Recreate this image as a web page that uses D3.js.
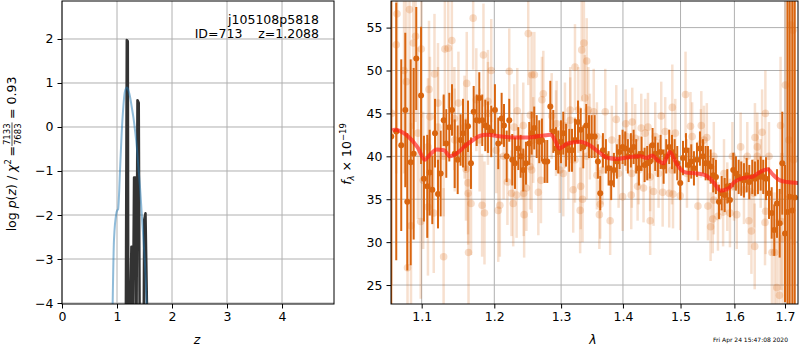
<!DOCTYPE html>
<html>
<head>
<meta charset="utf-8">
<script src="https://cdn.jsdelivr.net/npm/d3@7"></script>
<style>
  body { margin: 0; background: #fff; }
  svg { display: block; font-family: "DejaVu Sans", sans-serif; }
  .grid line { stroke: #b0b0b0; stroke-width: 1; }
</style>
</head>
<body>
<svg id="chart" width="800" height="350"></svg>
<script>
// ---- left panel: log p(z) ----
const chiZ   = [1.15, 1.16, 1.178, 1.196, 1.206, 1.235, 1.262, 1.279, 1.29, 1.31, 1.335, 1.345, 1.355, 1.372, 1.395, 1.412, 1.485, 1.495, 1.518, 1.55, 1.56];
const chiLog = [-4.5, -4.5, 1.98, 1.95, -4.5, -4.5, -2.72, -2.72, -4.5, -1.15, -1.15, -4.5, -4.5, 0.61, 0.55, -4.5, -4.5, -2.11, -1.96, -4.5, -4.5];

const pzZ   = [0.92, 0.945, 0.99, 1.006, 1.02, 1.055, 1.085, 1.115, 1.14, 1.164, 1.185, 1.206, 1.235, 1.267, 1.3, 1.327, 1.36, 1.388, 1.42, 1.449, 1.475, 1.497, 1.52, 1.54];
const pzLog = [-4.1, -2.57, -1.95, -1.89, -1.87, -0.98, -0.14, 0.46, 0.78, 0.88, 0.9, 0.84, 0.7, 0.46, 0.2, -0.07, -0.45, -0.9, -1.4, -1.96, -2.45, -2.87, -3.4, -4.1];

const zTicks = [0, 1, 2, 3, 4];
const pTicks = [-4, -3, -2, -1, 0, 1, 2];

// ---- right panel: spectrum ----
const binWave = [1.0606, 1.0670, 1.0734, 1.0786, 1.0812, 1.0856, 1.0895, 1.0929, 1.0992, 1.1030, 1.1074, 1.1106, 1.1141, 1.1177, 1.1217, 1.1253, 1.1294, 1.1329, 1.1370, 1.1407, 1.1444, 1.1485, 1.1525, 1.1558, 1.1595, 1.1628, 1.1669, 1.1707, 1.1749, 1.1786, 1.1828, 1.1871, 1.1909, 1.1956,
  1.2009, 1.2057, 1.2106, 1.2140, 1.2179, 1.2217, 1.2261, 1.2301, 1.2350, 1.2385, 1.2424, 1.2464, 1.2513, 1.2549, 1.2588, 1.2625, 1.2664, 1.2705, 1.2747, 1.2786, 1.2833, 1.2879, 1.2921, 1.2956, 1.2998, 1.3034, 1.3077, 1.3128, 1.3171, 1.3218, 1.3266, 1.3309, 1.3350, 1.3398, 1.3442, 1.3485,
  1.3533, 1.3586, 1.3624, 1.3668, 1.3717, 1.3761, 1.3804, 1.3849, 1.3899, 1.3944, 1.3994, 1.4038, 1.4083, 1.4134, 1.4180, 1.4224, 1.4270, 1.4316, 1.4368, 1.4413, 1.4459, 1.4506, 1.4552, 1.4599, 1.4646, 1.4699, 1.4745, 1.4798, 1.4847, 1.4895, 1.4941, 1.4995, 1.5044, 1.5098, 1.5147, 1.5194, 1.5243, 1.5298,
  1.5353, 1.5409, 1.5458, 1.5501, 1.5551, 1.5600, 1.5650, 1.5707, 1.5758, 1.5815, 1.5864, 1.5915, 1.5978, 1.6030, 1.6082, 1.6132, 1.6184, 1.6237, 1.6288, 1.6346, 1.6399, 1.6458, 1.6512, 1.6563, 1.6617, 1.6677, 1.6731, 1.6783, 1.6838, 1.6892, 1.6945, 1.7000, 1.7050, 1.7095, 1.7150, 1.7200];
const binFlux = [42.3, 42.9, 41.3, 45.4, 34.7, 39.3, 40.3, 51.4, 47.1, 37.4, 36.5, 38.1, 36.1, 42.7, 35.6, 38.0, 44.2, 41.5, 43.4, 45.4, 40.3, 39.6, 41.9, 42.7, 41.3, 43.5, 39.2, 45.2, 44.2, 46.8, 44.2, 43.6, 43.4, 42.9,
  45.4, 41.5, 44.4, 43.6, 40.0, 44.2, 39.6, 39.2, 40.9, 40.0, 38.4, 39.2, 41.5, 42.7, 43.3, 42.3, 41.7, 41.9, 39.4, 39.4, 45.8, 42.9, 40.9, 40.5, 41.7, 42.7, 41.3, 40.7, 40.7, 41.9, 44.0, 43.1, 41.1, 43.6, 42.3, 42.3,
  42.3, 39.4, 35.7, 40.7, 40.0, 38.6, 36.9, 38.4, 39.4, 40.5, 41.1, 40.9, 40.0, 40.7, 41.1, 40.0, 38.6, 40.3, 39.0, 39.2, 39.4, 41.3, 40.3, 39.6, 40.5, 38.8, 40.0, 41.1, 40.5, 40.0, 39.2, 36.9, 39.8, 40.7, 39.0, 39.4, 38.6, 39.6,
  40.9, 40.0, 39.2, 39.2, 38.8, 37.8, 37.6, 34.7, 35.7, 35.5, 36.5, 34.9, 38.4, 38.0, 37.6, 37.4, 37.2, 37.8, 37.0, 37.6, 37.4, 37.6, 38.0, 37.6, 37.4, 35.7, 33.4, 31.4, 34.5, 32.2, 39.2, 31.0, 33.5, 35.3, 33.7, 35.2];
const binErr = [20, 15, 10, 9, 8, 12, 10, 6, 8, 5, 6, 5, 4, 4, 4, 5, 3, 4, 4, 3, 4, 4, 3, 4, 3, 3, 3, 3, 3, 3, 3, 3, 3, 3,
  3, 3, 3, 2.5, 3, 2.5, 3, 3, 2.5, 2.5, 2.5, 2.5, 2.5, 2.5, 2.5, 2.5, 2.5, 2.5, 2.5, 2.5, 3, 2.5, 2.5, 2.5, 2.5, 2.5, 2.5, 2.5, 2.5, 2.5, 2.5, 2.5, 2.5, 2.5, 2.5, 2.5,
  2.5, 2, 2, 2, 2, 2, 2, 2, 2, 2, 2, 2, 2, 2, 2, 2, 2, 2, 2, 2, 2, 2, 2, 2, 2, 2, 2, 2, 2, 2, 2, 2, 2, 2, 2, 2, 2, 2,
  2, 2, 2, 2, 2, 2, 2, 2, 2, 2, 2, 2, 2, 2, 2, 2, 2, 2, 2, 2, 2, 2, 2, 2, 2.5, 3, 3, 3, 4, 4, 6, 8, 25, 30, 30, 30];

const rawWave = [1.061, 1.067, 1.068, 1.077, 1.080, 1.084, 1.086, 1.0815, 1.089, 1.092, 1.0987, 1.0995, 1.102, 1.1083, 1.1097, 1.111, 1.116, 1.117, 1.1217, 1.1293, 1.131, 1.1356, 1.1405, 1.144, 1.1495, 1.160, 1.161, 1.1628, 1.1635, 1.163, 1.167, 1.170, 1.1826, 1.1845, 1.186, 1.1909, 1.1956,
  1.1217, 1.1444, 1.158, 1.1744, 1.1791, 1.1909, 1.1083, 1.1293, 1.095,
  1.2057, 1.208, 1.219, 1.2217, 1.225, 1.2275, 1.229, 1.2325, 1.2335, 1.2437, 1.243, 1.247, 1.2498, 1.253, 1.2549, 1.255, 1.259, 1.265, 1.2705, 1.2690, 1.2726, 1.293, 1.298, 1.3034, 1.3143, 1.319, 1.3218, 1.3325, 1.3300, 1.3309, 1.3338, 1.336, 1.3375, 1.3405, 1.3456,
  1.2424, 1.2573, 1.2854, 1.2921, 1.306, 1.3143, 1.3271, 1.3431, 1.2029, 1.2135, 1.24, 1.2526, 1.3113, 1.3218, 1.3404,
  1.3518, 1.357, 1.361, 1.3624, 1.3706, 1.3787, 1.3888, 1.3994, 1.4046, 1.414, 1.415, 1.4157, 1.4248, 1.431, 1.435, 1.4426, 1.4464, 1.4523, 1.4657, 1.4682, 1.4798, 1.4853, 1.4865, 1.4995, 1.509, 1.518, 1.5316,
  1.357, 1.3815, 1.406, 1.4207, 1.4378, 1.4552, 1.4727, 1.4906, 1.521, 1.366, 1.3927, 1.4265, 1.4464, 1.461, 1.4847, 1.5116,
  1.537, 1.5378, 1.548, 1.55, 1.555, 1.559, 1.5688, 1.5785, 1.5915, 1.6045, 1.628, 1.633, 1.6394, 1.6399, 1.6445, 1.654, 1.6598, 1.6605, 1.661, 1.6736, 1.679, 1.6834, 1.6887, 1.691, 1.6925, 1.695, 1.7008, 1.708, 1.7118, 1.716, 1.718,
  1.5427, 1.561, 1.5802, 1.5962, 1.612, 1.6249, 1.6445, 1.6512, 1.6677, 1.5993, 1.6184, 1.638, 1.5864, 1.561];
const rawFlux = [45.0, 53.0, 56.6, 50.0, 48.7, 57.1, 31.9, 27.0, 53.2, 54.0, 32.4, 52.5, 37.2, 34.1, 47.8, 44.6, 33.4, 49.6, 43.4, 28.3, 52.5, 52.6, 53.5, 44.4, 46.2, 38.5, 48.5, 36.9, 28.8, 35.7, 34.5, 56.1, 34.3, 51.8, 33.4, 46.4, 50.0,
  46.2, 41.9, 43.4, 46.6, 41.9, 45.0, 41.1, 40.0, 42.7,
  33.7, 34.3, 37.0, 49.9, 35.7, 34.5, 43.4, 35.5, 45.3, 33.2, 35.7, 36.3, 54.3, 44.8, 49.5, 38.4, 49.5, 35.8, 46.6, 37.2, 47.3, 43.8, 38.4, 38.0, 45.4, 36.1, 50.4, 52.4, 33.7, 36.5, 35.0, 53.2, 46.8, 51.1, 42.3,
  43.6, 41.9, 44.7, 42.7, 43.6, 44.2, 45.4, 45.4, 40.7, 40.0, 40.0, 38.8, 40.0, 39.6, 40.0,
  45.2, 37.8, 33.2, 34.4, 45.2, 32.5, 44.3, 35.3, 43.8, 35.5, 38.0, 44.0, 36.5, 43.3, 36.3, 43.4, 32.5, 35.9, 44.7, 35.8, 35.7, 45.7, 35.6, 35.4, 47.2, 43.5, 34.2,
  42.3, 41.9, 42.3, 42.1, 42.7, 42.3, 42.9, 42.7, 42.3, 38.4, 38.0, 38.4, 37.6, 38.0, 38.4, 38.0,
  41.5, 43.6, 42.2, 34.2, 31.8, 32.7, 33.0, 33.5, 33.4, 33.2, 32.5, 31.3, 29.5, 42.2, 41.1, 42.8, 32.3, 45.0, 33.6, 28.8, 28.8, 24.7, 23.8, 43.6, 32.4, 30.4, 48.3, 41.9, 55.3, 54.7, 39.6,
  41.9, 40.0, 38.0, 40.0, 41.1, 40.0, 40.0, 38.0, 40.0, 36.5, 36.1, 35.7, 35.3, 34.9];
const rawErr = [20, 15, 15, 12, 12, 15, 12, 12, 10, 10, 9, 8, 8, 8, 8, 7, 7, 7, 7, 8, 7, 7, 7, 6, 6, 6, 6, 6, 7, 6, 6, 6, 6, 6, 6, 6, 6,
  7, 6, 6, 6, 6, 6, 8, 7, 10,
  6, 6, 5, 5, 5, 5, 5, 5, 5, 5, 5, 5, 6, 5, 5, 5, 5, 5, 5, 5, 5, 5, 5, 5, 5, 5, 5, 6, 5, 5, 5, 6, 5, 5, 5,
  5, 5, 5, 5, 5, 5, 5, 5, 5, 5, 5, 5, 5, 5, 5,
  5, 4, 4, 4, 5, 4, 4, 4, 4, 4, 4, 4, 4, 4, 4, 4, 4, 4, 4, 4, 4, 5, 4, 4, 5, 4, 4,
  4, 4, 4, 4, 4, 4, 4, 4, 4, 4, 4, 4, 4, 4, 4, 4,
  4, 4, 4, 4, 4, 4, 4, 4, 4, 4, 4, 5, 5, 4, 4, 5, 5, 5, 5, 7, 7, 8, 8, 8, 8, 10, 15, 20, 25, 25, 25,
  4, 4, 4, 4, 4, 4, 4, 4, 4, 4, 4, 4, 4, 4];

const modelWave = [1.062, 1.065, 1.08, 1.095, 1.104, 1.112, 1.12, 1.13, 1.138, 1.148, 1.16, 1.17, 1.18, 1.19, 1.21, 1.23, 1.25, 1.27, 1.284, 1.291, 1.297, 1.31, 1.33, 1.345, 1.36, 1.375, 1.39, 1.41, 1.43, 1.44, 1.45, 1.46, 1.47, 1.475, 1.481, 1.49, 1.5, 1.51, 1.53, 1.545, 1.56, 1.574, 1.59, 1.6, 1.62, 1.635, 1.645, 1.665, 1.675, 1.69, 1.705, 1.727];
const modelFlux = [43.0, 43.1, 42.5, 41.0, 39.6, 40.3, 40.8, 40.7, 40.0, 40.4, 41.3, 41.9, 42.4, 42.5, 42.3, 42.2, 42.2, 42.4, 42.5, 41.8, 40.9, 41.5, 41.7, 41.3, 40.5, 39.8, 39.7, 39.9, 40.0, 39.8, 40.1, 39.5, 39.2, 39.8, 40.5, 39.5, 38.5, 38.1, 38.0, 37.8, 37.0, 36.0, 36.3, 37.0, 37.5, 37.6, 38.0, 38.5, 37.9, 37.2, 37.0, 36.9];

const waveTicks = [1.1, 1.2, 1.3, 1.4, 1.5, 1.6, 1.7];
const fluxTicks = [25, 30, 35, 40, 45, 50, 55];

const orange = "#d9650f";
const fs = 12.5;
const svg = d3.select("#chart");

const fmtMinus = d => String(d).replace("-", "\u2212");

function drawGrid(g, x, y, xt, yt, box) {
  const grid = g.append("g").attr("class", "grid");
  grid.selectAll(".gx").data(xt).join("line")
    .attr("x1", d => x(d)).attr("x2", d => x(d))
    .attr("y1", box.top).attr("y2", box.bottom);
  grid.selectAll(".gy").data(yt).join("line")
    .attr("x1", box.left).attr("x2", box.right)
    .attr("y1", d => y(d)).attr("y2", d => y(d));
}

function drawFrame(g, x, y, xt, yt, xfmt, box) {
  g.append("rect")
    .attr("x", box.left).attr("y", box.top)
    .attr("width", box.right - box.left).attr("height", box.bottom - box.top)
    .attr("fill", "none").attr("stroke", "#000").attr("stroke-width", 1);

  const xa = g.append("g").attr("transform", `translate(0,${box.bottom})`)
    .call(d3.axisBottom(x).tickValues(xt).tickFormat(xfmt).tickSize(4.5).tickPadding(4));
  const ya = g.append("g").attr("transform", `translate(${box.left},0)`)
    .call(d3.axisLeft(y).tickValues(yt).tickFormat(fmtMinus).tickSize(4.5).tickPadding(4));
  [xa, ya].forEach(a => {
    a.select(".domain").remove();
    a.selectAll("text").attr("font-size", fs).attr("font-family", "DejaVu Sans").attr("fill", "#000");
  });
}

// ---------- left panel ----------
const boxL = { left: 62, right: 334, top: 1, bottom: 304 };
const xz = d3.scaleLinear().domain([0, 4.945]).range([boxL.left, boxL.right]);
const yp = d3.scaleLinear().domain([-4.0227, 2.8636]).range([boxL.bottom, boxL.top]);

const gL = svg.append("g");
drawGrid(gL, xz, yp, zTicks, pTicks, boxL);

svg.append("clipPath").attr("id", "clipL").append("rect")
  .attr("x", boxL.left).attr("y", boxL.top)
  .attr("width", boxL.right - boxL.left).attr("height", boxL.bottom - boxL.top);

const chiLine = d3.line().x((d, i) => xz(chiZ[i])).y(d => yp(d));
gL.append("path").datum(chiLog)
  .attr("clip-path", "url(#clipL)")
  .attr("d", chiLine)
  .attr("fill", "none").attr("stroke", "#333").attr("stroke-width", 2.5)
  .attr("stroke-linejoin", "round");

const pzLine = d3.line().x((d, i) => xz(pzZ[i])).y(d => yp(d)).curve(d3.curveMonotoneX);
gL.append("path").datum(pzLog)
  .attr("clip-path", "url(#clipL)")
  .attr("d", pzLine)
  .attr("fill", "none").attr("stroke", "#1f77b4").attr("stroke-opacity", 0.5).attr("stroke-width", 2);

drawFrame(gL, xz, yp, zTicks, pTicks, d3.format("d"), boxL);

gL.append("text").attr("x", 319).attr("y", 24).attr("text-anchor", "end")
  .attr("font-size", fs).text("j105108p5818");
gL.append("text").attr("x", 319).attr("y", 38).attr("text-anchor", "end")
  .attr("font-size", fs).style("white-space", "pre").text("ID=713    z=1.2088");

gL.append("text").attr("x", 197).attr("y", 344).attr("text-anchor", "middle")
  .attr("font-size", fs).attr("font-style", "italic").text("z");

// y label with the chi2 fraction
const yl = svg.append("g").attr("transform", "translate(16,154) rotate(-90)");
const ylIn = yl.append("g");
const t1 = ylIn.append("text").attr("font-size", fs);
t1.append("tspan").text("log ");
t1.append("tspan").attr("font-style", "italic").text("p");
t1.append("tspan").text("(");
t1.append("tspan").attr("font-style", "italic").text("z");
t1.append("tspan").text(") / ");
t1.append("tspan").attr("font-style", "italic").text("\u03c7");
t1.append("tspan").attr("font-size", 8.5).attr("dy", -5).text("2");
t1.append("tspan").attr("dy", 5).text("\u2009= ");
const w1 = t1.node().getComputedTextLength();
const num = ylIn.append("text").attr("font-size", 8.5).attr("y", -6).text("7133");
const den = ylIn.append("text").attr("font-size", 8.5).attr("y", 4.5).text("7683");
const fw = Math.max(num.node().getComputedTextLength(), den.node().getComputedTextLength()) + 2;
num.attr("x", w1 + fw / 2).attr("text-anchor", "middle");
den.attr("x", w1 + fw / 2).attr("text-anchor", "middle");
ylIn.append("line").attr("x1", w1).attr("x2", w1 + fw).attr("y1", -4).attr("y2", -4)
  .attr("stroke", "#000").attr("stroke-width", 0.7);
const t3 = ylIn.append("text").attr("font-size", fs).attr("x", w1 + fw + 1).text("\u2009= 0.93");
const wTot = w1 + fw + 1 + t3.node().getComputedTextLength();
ylIn.attr("transform", `translate(${-wTot / 2},0)`);

// ---------- right panel ----------
const boxR = { left: 391, right: 798, top: 1, bottom: 304 };
const xw = d3.scaleLog().domain([1.0603, 1.7267]).range([boxR.left, boxR.right]);
const yf = d3.scaleLinear().domain([22.79, 58.10]).range([boxR.bottom, boxR.top]);

const gR = svg.append("g");
drawGrid(gR, xw, yf, waveTicks, fluxTicks, boxR);

svg.append("clipPath").attr("id", "clipR").append("rect")
  .attr("x", boxR.left).attr("y", boxR.top)
  .attr("width", boxR.right - boxR.left).attr("height", boxR.bottom - boxR.top);

const data = gR.append("g").attr("clip-path", "url(#clipR)");

// unbinned points, faint
data.append("g").selectAll("line").data(rawFlux).join("line")
  .attr("x1", (d, i) => xw(rawWave[i])).attr("x2", (d, i) => xw(rawWave[i]))
  .attr("y1", (d, i) => yf(d - rawErr[i])).attr("y2", (d, i) => yf(d + rawErr[i]))
  .attr("stroke", orange).attr("stroke-opacity", 0.2).attr("stroke-width", 2.5);
data.append("g").selectAll("circle").data(rawFlux).join("circle")
  .attr("cx", (d, i) => xw(rawWave[i])).attr("cy", d => yf(d))
  .attr("r", 3.8).attr("fill", orange).attr("fill-opacity", 0.22);

// binned points
data.append("g").selectAll("line").data(binFlux).join("line")
  .attr("x1", (d, i) => xw(binWave[i])).attr("x2", (d, i) => xw(binWave[i]))
  .attr("y1", (d, i) => yf(d - binErr[i])).attr("y2", (d, i) => yf(d + binErr[i]))
  .attr("stroke", orange).attr("stroke-width", 2);
data.append("g").selectAll("circle").data(binFlux).join("circle")
  .attr("cx", (d, i) => xw(binWave[i])).attr("cy", d => yf(d))
  .attr("r", 3).attr("fill", orange);

// model
const modelLine = d3.line().x((d, i) => xw(modelWave[i])).y(d => yf(d)).curve(d3.curveMonotoneX);
data.append("path").datum(modelFlux)
  .attr("d", modelLine)
  .attr("fill", "none").attr("stroke", "#ff1a1a").attr("stroke-opacity", 0.65)
  .attr("stroke-width", 4).attr("stroke-linejoin", "round");

drawFrame(gR, xw, yf, waveTicks, fluxTicks, d3.format(".1f"), boxR);

gR.append("text").attr("x", 593).attr("y", 344).attr("text-anchor", "middle")
  .attr("font-size", fs).attr("font-style", "italic").text("\u03bb");

const fl = svg.append("g").attr("transform", "translate(351,154) rotate(-90)");
const flt = fl.append("text").attr("font-size", fs).attr("text-anchor", "middle");
flt.append("tspan").attr("font-style", "italic").text("f");
flt.append("tspan").attr("font-size", 8.5).attr("font-style", "italic").attr("dy", 3).text("\u03bb");
flt.append("tspan").attr("dy", -3).text(" \u00d7 10");
flt.append("tspan").attr("font-size", 8.5).attr("dy", -5).text("\u221219");

svg.append("text").attr("x", 788).attr("y", 342).attr("text-anchor", "end")
  .attr("font-size", 6).text("Fri Apr 24 15:47:08 2020");
</script>
</body>
</html>
